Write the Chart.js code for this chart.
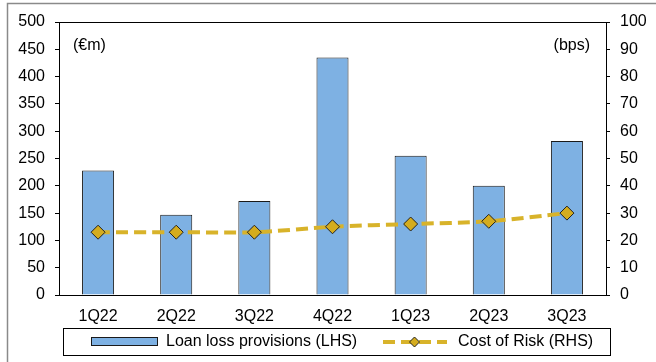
<!DOCTYPE html>
<html>
<head>
<meta charset="utf-8">
<script src="https://cdn.jsdelivr.net/npm/chart.js@4/dist/chart.umd.min.js"></script>
<style>
  html, body { margin: 0; padding: 0; background: #fff; }
  #wrap { position: relative; width: 656px; height: 362px; }
</style>
</head>
<body>
<div id="wrap"><canvas id="llpChart" width="656" height="362"></canvas></div>
<script>
/* ── data ── */
const QUARTERS = ['1Q22', '2Q22', '3Q22', '4Q22', '1Q23', '2Q23', '3Q23'];
const PROVISIONS = [228, 147, 172, 435, 255, 200, 282];   // €m, LHS
const COST_OF_RISK = [23, 23, 23, 25, 26, 27, 30];        // bps, RHS
const LEFT_TICKS = [0, 50, 100, 150, 200, 250, 300, 350, 400, 450, 500];
const RIGHT_TICKS = [0, 10, 20, 30, 40, 50, 60, 70, 80, 90, 100];

const FONT = "'Liberation Sans', Arial, sans-serif";
const FONT_SIZE = 16;
const BAR_FILL = '#7EB1E3';
const BAR_EDGE = '#1a1a1a';
const LINE_GOLD = '#D8B32A';
const DIAMOND = '#D4AC1E';

/* ── frame, plot box, unit labels and legend ── */
const decor = {
  id: 'decor',
  afterDatasetsDraw(chart) {
    const { ctx, chartArea: a } = chart;
    const bar = chart.data.datasets.find(d => d.type === 'bar');
    const line = chart.data.datasets.find(d => d.type === 'line');
    ctx.save();
    // plot box
    ctx.strokeStyle = '#000';
    ctx.lineWidth = 1;
    ctx.strokeRect(Math.round(a.left) + 0.5, Math.round(a.top) + 0.5,
      Math.round(a.right - a.left), Math.round(a.bottom - a.top));

    // outer frame (only top + left visible)
    ctx.strokeStyle = '#8a8a8a';
    ctx.lineWidth = 1.5;
    ctx.beginPath();
    ctx.moveTo(7.5, 362); ctx.lineTo(7.5, 3.5); ctx.lineTo(656, 3.5);
    ctx.stroke();

    // units
    ctx.fillStyle = '#000';
    ctx.font = FONT_SIZE + 'px ' + FONT;
    ctx.textBaseline = 'middle';
    ctx.textAlign = 'left';
    ctx.fillText('(€m)', a.left + 14, 46);
    ctx.textAlign = 'right';
    ctx.fillText('(bps)', a.right - 16, 46);

    // legend
    ctx.strokeStyle = '#000';
    ctx.lineWidth = 1;
    ctx.strokeRect(63.5, 328.5, 547, 27);
    const ly = 342;
    ctx.fillStyle = bar.backgroundColor;
    ctx.fillRect(91, 337, 67, 9);
    ctx.strokeStyle = bar.borderColor;
    ctx.strokeRect(91.5, 337.5, 66, 8);
    ctx.fillStyle = '#000';
    ctx.textAlign = 'left';
    ctx.fillText(bar.label, 166, ly);

    ctx.strokeStyle = line.borderColor;
    ctx.lineWidth = 4;
    ctx.setLineDash([12, 6]);
    ctx.beginPath();
    ctx.moveTo(383, ly); ctx.lineTo(447, ly);
    ctx.stroke();
    ctx.setLineDash([]);
    ctx.fillStyle = line.pointBackgroundColor;
    ctx.strokeStyle = '#222';
    ctx.lineWidth = 1;
    ctx.beginPath();
    ctx.moveTo(414.5, ly - 5); ctx.lineTo(419.5, ly); ctx.lineTo(414.5, ly + 5); ctx.lineTo(409.5, ly);
    ctx.closePath();
    ctx.fill(); ctx.stroke();
    ctx.fillStyle = '#000';
    ctx.fillText(line.label, 458, ly);
    ctx.restore();
  }
};

const tickFont = { family: FONT, size: FONT_SIZE };

new Chart(document.getElementById('llpChart'), {
  data: {
    labels: QUARTERS,
    datasets: [
      {
        type: 'line',
        label: 'Cost of Risk (RHS)',
        data: COST_OF_RISK,
        yAxisID: 'yR',
        borderColor: LINE_GOLD,
        borderWidth: 4,
        borderDash: [12, 6],
        tension: 0.3,
        pointStyle: 'rectRot',
        pointRadius: 7,
        pointBackgroundColor: DIAMOND,
        pointBorderColor: '#222',
        pointBorderWidth: 1,
        order: 1
      },
      {
        type: 'bar',
        label: 'Loan loss provisions (LHS)',
        data: PROVISIONS,
        yAxisID: 'yL',
        backgroundColor: BAR_FILL,
        borderColor: BAR_EDGE,
        borderWidth: 1,
        categoryPercentage: 1,
        barPercentage: 0.41,
        order: 2
      }
    ]
  },
  options: {
    responsive: false,
    animation: false,
    devicePixelRatio: 1,
    layout: { padding: { top: 22, left: 0, right: 0, bottom: 0 } },
    plugins: { legend: { display: false }, tooltip: { enabled: false } },
    scales: {
      x: {
        grid: { display: false, drawTicks: false },
        border: { color: '#000' },
        ticks: { color: '#000', font: tickFont, padding: 12 },
        afterFit(s) { s.height = 67; }
      },
      yL: {
        position: 'left',
        min: 0, max: 500,
        afterBuildTicks(s) { s.ticks = LEFT_TICKS.map(v => ({ value: v })); },
        grid: { drawOnChartArea: false, drawTicks: true, tickLength: 4, color: '#000' },
        border: { color: '#000' },
        ticks: { color: '#000', font: tickFont, padding: 10 },
        afterFit(s) { s.width = 59; }
      },
      yR: {
        position: 'right',
        min: 0, max: 100,
        afterBuildTicks(s) { s.ticks = RIGHT_TICKS.map(v => ({ value: v })); },
        grid: { drawOnChartArea: false, drawTicks: true, tickLength: 4, color: '#000' },
        border: { color: '#000' },
        ticks: { color: '#000', font: tickFont, padding: 10 },
        afterFit(s) { s.width = 50; }
      }
    }
  },
  plugins: [decor]
});
</script>
</body>
</html>
